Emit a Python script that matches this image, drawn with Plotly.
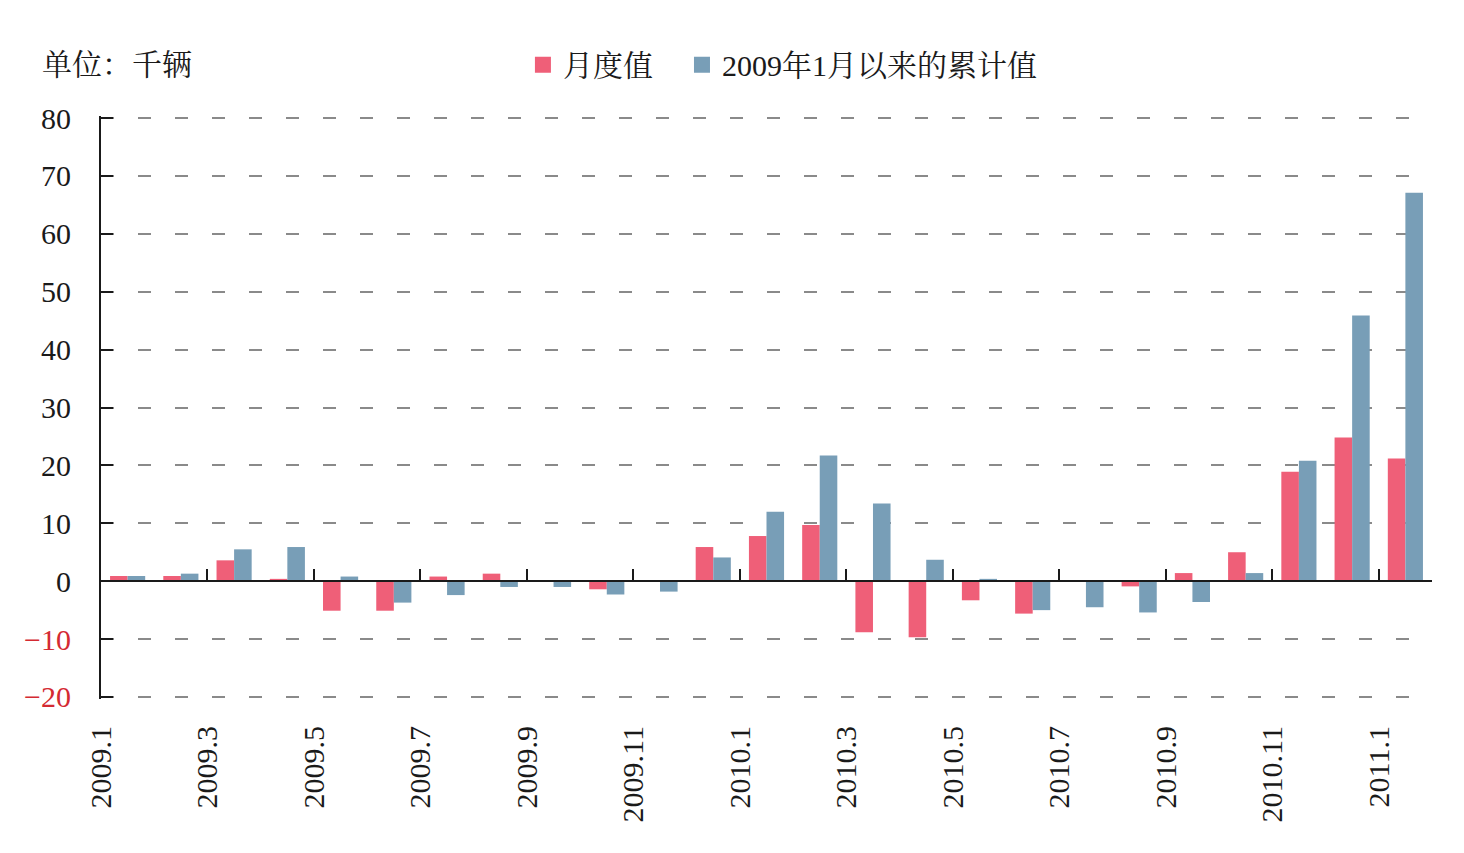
import plotly.graph_objects as go

months = ["2009.1", "2009.2", "2009.3", "2009.4", "2009.5", "2009.6", "2009.7",
          "2009.8", "2009.9", "2009.10", "2009.11", "2009.12", "2010.1", "2010.2",
          "2010.3", "2010.4", "2010.5", "2010.6", "2010.7", "2010.8", "2010.9",
          "2010.10", "2010.11", "2010.12", "2011.1"]
monthly = [0.9, 0.9, 3.6, 0.4, -5.1, -5.1, 0.8, 1.3, 0.0, -1.4, 0.0, 5.9, 7.8,
           9.7, -8.8, -9.7, -3.3, -5.6, 0.0, -0.9, 1.4, 5.0, 18.9, 24.8, 21.2]
cumulative = [0.9, 1.3, 5.5, 5.9, 0.8, -3.7, -2.4, -1.0, -1.0, -2.3, -1.8, 4.1,
              12.0, 21.7, 13.4, 3.7, 0.4, -5.0, -4.5, -5.4, -3.6, 1.4, 20.8,
              45.9, 67.1]
series_names = ["月度值", "2009年1月以来的累计值"]
series_colors = ["#EF5F78", "#789EB7"]
y_ticks = [-20, -10, 0, 10, 20, 30, 40, 50, 60, 70, 80]
unit_label = "单位：千辆"

FONT = "Liberation Serif, Noto Serif CJK SC, Noto Sans CJK SC, serif"
RED = "#D42A32"
INK = "#1a1a1a"

idx = list(range(len(months)))
xc = [i + 0.5 for i in idx]

pad = 0.35
ymin, ymax = y_ticks[0] - pad, y_ticks[-1] + pad
zero_pos = (0 - ymin) / (ymax - ymin)

fig = go.Figure()
for vals, name, col in zip([monthly, cumulative], series_names, series_colors):
    fig.add_trace(go.Bar(x=xc, y=vals, name=name, marker=dict(color=col, line=dict(width=0)),
                         showlegend=False))
# legend entries with square markers, one legend box per series
for name, col, lg in zip(series_names, series_colors, ["legend", "legend2"]):
    fig.add_trace(go.Scatter(x=[None], y=[None], mode="markers", name=name, legend=lg,
                             marker=dict(symbol="square", size=24, color=col)))
# helper trace for the zero-line axis
fig.add_trace(go.Scatter(x=[None], y=[None], xaxis="x2", showlegend=False, hoverinfo="skip"))

ytext = [("<span style='color:%s'>−%d</span>" % (RED, -v)) if v < 0 else str(v) for v in y_ticks]
tfont = dict(family=FONT, size=30, color=INK)
lfont = dict(family=FONT, size=30, color=INK)

fig.update_layout(
    width=1464, height=853, autosize=False,
    margin=dict(l=101, r=32, t=116, b=154),
    paper_bgcolor="white", plot_bgcolor="white",
    font=dict(family=FONT, size=30, color=INK),
    barmode="group", bargap=0.34, bargroupgap=0,
    showlegend=True,
    legend=dict(orientation="h", x=0.317, xanchor="left", y=1.088, yanchor="middle",
                font=lfont, bgcolor="rgba(0,0,0,0)", itemwidth=30),
    legend2=dict(orientation="h", x=0.4365, xanchor="left", y=1.088, yanchor="middle",
                 font=lfont, bgcolor="rgba(0,0,0,0)", itemwidth=30),
    xaxis=dict(range=[0, len(months)], tickmode="array", tickvals=idx[::2],
               ticktext=months[::2], tickangle=-90, ticks="", showline=False,
               showgrid=False, zeroline=False, tickfont=tfont,
               ticklabelstandoff=20),
    xaxis2=dict(overlaying="x", anchor="free", position=zero_pos, range=[0, len(months)],
                tickmode="array", tickvals=idx[2::2], ticks="inside", ticklen=11,
                tickwidth=2, tickcolor=INK, showline=True, linewidth=2,
                linecolor=INK, showticklabels=False, showgrid=False, zeroline=False),
    yaxis=dict(range=[ymin, ymax], tickmode="array", tickvals=y_ticks, ticktext=ytext,
               ticks="inside", ticklen=12, tickwidth=2, tickcolor=INK,
               showline=True, linewidth=2, linecolor=INK,
               showgrid=True, gridcolor="#8a8a8a", gridwidth=1.5, griddash="13px,24px",
               zeroline=False, tickfont=tfont, ticklabelstandoff=22),
    annotations=[dict(text=unit_label, xref="paper", yref="paper",
                      x=-0.046, xanchor="left", y=1.088, yanchor="middle",
                      showarrow=False, font=dict(family=FONT, size=30, color=INK))],
)

fig.write_html("out.html")
